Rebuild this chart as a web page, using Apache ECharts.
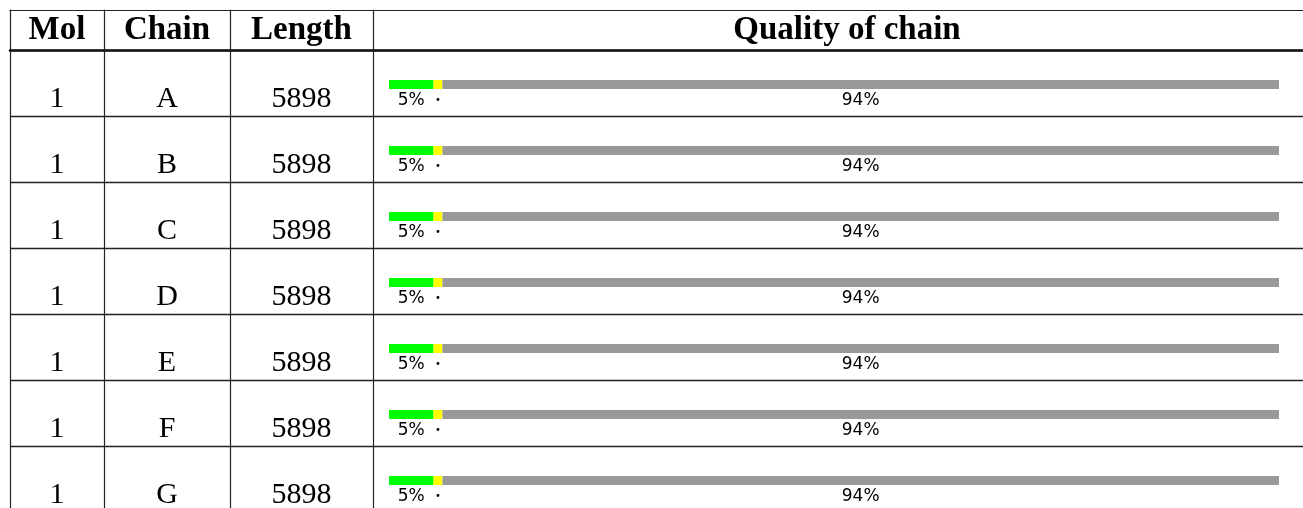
<!DOCTYPE html>
<html>
<head>
<meta charset="utf-8">
<script src="https://cdn.jsdelivr.net/npm/echarts@6/dist/echarts.min.js"></script>
<style>
html,body{margin:0;padding:0;background:#fff;overflow:hidden;}
#chart{width:1303px;height:530px;}
</style>
</head>
<body>
<div id="chart"></div>
<script>
const headers = ['Mol', 'Chain', 'Length', 'Quality of chain'];
const mols = ['1', '1', '1', '1', '1', '1', '1'];
const chains = ['A', 'B', 'C', 'D', 'E', 'F', 'G'];
const lengths = ['5898', '5898', '5898', '5898', '5898', '5898', '5898'];
const goodPct = [5, 5, 5, 5, 5, 5, 5];
const fairPct = [1, 1, 1, 1, 1, 1, 1];
const otherPct = [94, 94, 94, 94, 94, 94, 94];

const LINE = '#222';
const serif = 'Liberation Serif';

function colAxis(gridIndex, lineX, centerX, labels, bold, showLine) {
  return {
    type: 'category', gridIndex: gridIndex, position: 'left', inverse: true,
    offset: -(lineX - 10),
    data: chains.slice(0, labels.length),
    axisLine: {show: showLine, lineStyle: {color: LINE, width: 1.2}},
    axisTick: {show: false},
    splitLine: {show: false},
    axisLabel: {
      show: true, align: 'center', margin: lineX - centerX,
      verticalAlign: gridIndex === 0 ? 'top' : 'middle',
      padding: gridIndex === 0 ? [1, 0, 0, 0] : [2, 0, 0, 0],
      fontFamily: serif, fontSize: bold ? 33 : 30, fontWeight: bold ? 'bold' : 'normal',
      color: '#000', interval: 0,
      formatter: function (v, i) { return labels[i]; }
    }
  };
}

const chart = echarts.init(document.getElementById('chart'));
chart.setOption({
  animation: false,
  grid: [
    {left: 10, right: 0, top: 50, height: 462, containLabel: false},
    {left: 10, right: 0, top: 10, height: 40, containLabel: false},
    {left: 389, width: 890, top: 51.5, height: 462, containLabel: false}
  ],
  xAxis: [
    {type: 'value', gridIndex: 0, position: 'top', min: 0, max: 1,
     axisLine: {show: true, lineStyle: {color: '#111', width: 2.6}},
     axisTick: {show: false}, axisLabel: {show: false}, splitLine: {show: false}},
    {type: 'value', gridIndex: 1, position: 'top', min: 0, max: 1,
     axisLine: {show: true, lineStyle: {color: LINE, width: 1.2}},
     axisTick: {show: false}, axisLabel: {show: false}, splitLine: {show: false}},
    {type: 'value', gridIndex: 2, min: 0, max: 100, show: false}
  ],
  yAxis: [
    {type: 'category', gridIndex: 0, position: 'left', inverse: true, data: chains,
     axisLine: {show: true, lineStyle: {color: LINE, width: 1.2}},
     axisTick: {show: false}, axisLabel: {show: false},
     splitLine: {show: true, interval: 0, lineStyle: {color: LINE, width: 1.3}}},
    colAxis(0, 104, 57, mols, false, true),
    colAxis(0, 230, 167, chains, false, true),
    colAxis(0, 373, 301.5, lengths, false, true),
    {type: 'category', gridIndex: 1, position: 'left', inverse: true, data: ['h'],
     axisLine: {show: true, lineStyle: {color: LINE, width: 1.2}},
     axisTick: {show: false}, axisLabel: {show: false}, splitLine: {show: false}},
    colAxis(1, 104, 57, [headers[0]], true, true),
    colAxis(1, 230, 167, [headers[1]], true, true),
    colAxis(1, 373, 301.5, [headers[2]], true, true),
    colAxis(1, 1303, 847, [headers[3]], true, false),
    {type: 'category', gridIndex: 2, inverse: true, data: chains, show: false}
  ],
  series: [
    {type: 'bar', name: 'good', xAxisIndex: 2, yAxisIndex: 9, stack: 'q', barWidth: 9,
     data: goodPct, itemStyle: {color: '#00ff00'},
     label: {show: true, position: 'bottom', distance: 3, fontFamily: 'DejaVu Sans', fontSize: 17, color: '#000',
             formatter: function (p) { return p.value + '%'; }}},
    {type: 'bar', name: 'fair', xAxisIndex: 2, yAxisIndex: 9, stack: 'q', barWidth: 9,
     data: fairPct, itemStyle: {color: '#ffff00'},
     label: {show: true, position: 'bottom', distance: 6, fontFamily: 'DejaVu Sans', fontSize: 10, color: '#000',
             formatter: function () { return '\u2022'; }}},
    {type: 'bar', name: 'other', xAxisIndex: 2, yAxisIndex: 9, stack: 'q', barWidth: 9,
     data: otherPct, itemStyle: {color: '#999999'},
     label: {show: true, position: 'bottom', distance: 3, fontFamily: 'DejaVu Sans', fontSize: 17, color: '#000',
             formatter: function (p) { return p.value + '%'; }}}
  ]
});
</script>
</body>
</html>
